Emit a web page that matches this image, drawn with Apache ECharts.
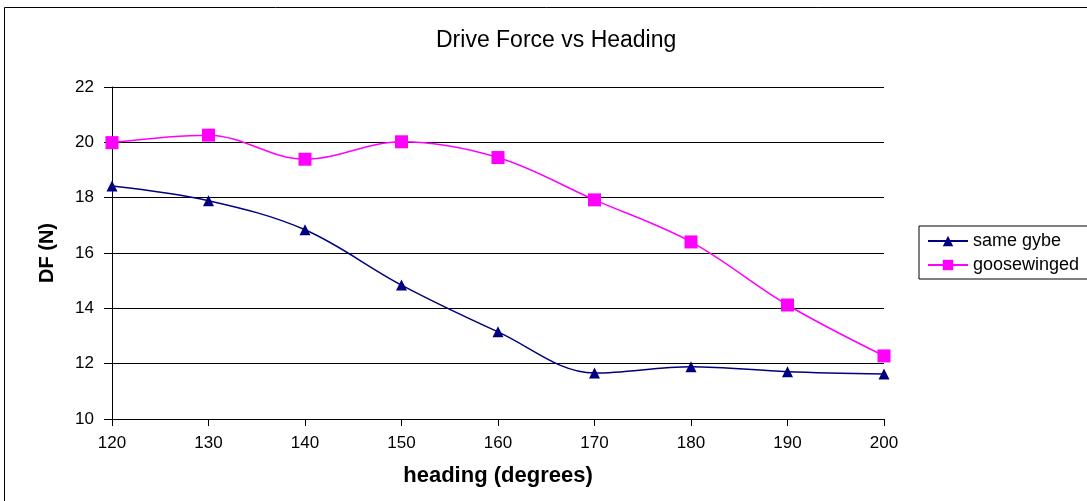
<!DOCTYPE html>
<html>
<head>
<meta charset="utf-8">
<script src="https://cdn.jsdelivr.net/npm/echarts@6/dist/echarts.min.js"></script>
<style>
  html, body { margin: 0; padding: 0; background: #fff; }
  #chart { width: 1087px; height: 501px; }
</style>
</head>
<body>
<div id="chart"></div>
<script>
var headings = [120, 130, 140, 150, 160, 170, 180, 190, 200];
var sameGybe = [18.42, 17.89, 16.84, 14.84, 13.15, 11.66, 11.89, 11.71, 11.63];
var goosewinged = [19.99, 20.26, 19.39, 20.02, 19.45, 17.92, 16.40, 14.12, 12.28];

function pairs(ys) {
    return headings.map(function (h, i) { return [h, ys[i]]; });
}

var myChart = echarts.init(document.getElementById('chart'));
var font = 'Liberation Sans, Arial, sans-serif';

var option = {
    animation: false,
    textStyle: { fontFamily: font },
    graphic: [{
        type: 'rect',
        shape: { x: 4.5, y: 7.5, width: 1200, height: 600 },
        style: { fill: 'none', stroke: '#000', lineWidth: 1 },
        silent: true
    }],
    title: {
        text: 'Drive Force vs Heading',
        left: 431,
        top: 24,
        textStyle: { fontFamily: font, fontSize: 23, fontWeight: 'normal', color: '#000' }
    },
    legend: {
        left: 919,
        top: 226,
        orient: 'vertical',
        itemWidth: 40,
        itemHeight: 13,
        itemGap: 6,
        padding: [6, 12, 5, 8],
        borderColor: '#000',
        borderWidth: 1,
        textStyle: { fontFamily: font, fontSize: 18, color: '#000' },
        data: ['same gybe', 'goosewinged']
    },
    grid: { left: 112, right: 203, top: 87, bottom: 82 },
    xAxis: {
        type: 'value',
        min: 120,
        max: 200,
        interval: 10,
        name: 'heading (degrees)',
        nameLocation: 'middle',
        nameGap: 46,
        nameTextStyle: { fontFamily: font, fontSize: 22, fontWeight: 'bold', color: '#000' },
        axisLine: { lineStyle: { color: '#000', width: 1 } },
        axisTick: { show: true, length: 7, lineStyle: { color: '#000' } },
        axisLabel: { color: '#000', fontSize: 17, margin: 16 },
        splitLine: { show: false }
    },
    yAxis: {
        type: 'value',
        min: 10,
        max: 22,
        interval: 2,
        name: 'DF (N)',
        nameLocation: 'middle',
        nameGap: 55,
        nameTextStyle: { fontFamily: font, fontSize: 20, fontWeight: 'bold', color: '#000' },
        axisLine: { show: true, lineStyle: { color: '#000', width: 1 } },
        axisTick: { show: true, length: 8, lineStyle: { color: '#000' } },
        axisLabel: { color: '#000', fontSize: 17, margin: 18 },
        splitLine: { show: true, lineStyle: { color: '#000', width: 1 } }
    },
    series: [
        {
            name: 'same gybe',
            type: 'line',
            smooth: 0.35,
            data: pairs(sameGybe),
            symbol: 'triangle',
            symbolSize: 11,
            itemStyle: { color: '#000080' },
            lineStyle: { color: '#000080', width: 1.5 }
        },
        {
            name: 'goosewinged',
            type: 'line',
            smooth: 0.35,
            data: pairs(goosewinged),
            symbol: 'rect',
            symbolSize: 13,
            itemStyle: { color: '#FF00FF' },
            lineStyle: { color: '#FF00FF', width: 1.5 }
        }
    ]
};
myChart.setOption(option);
</script>
</body>
</html>
